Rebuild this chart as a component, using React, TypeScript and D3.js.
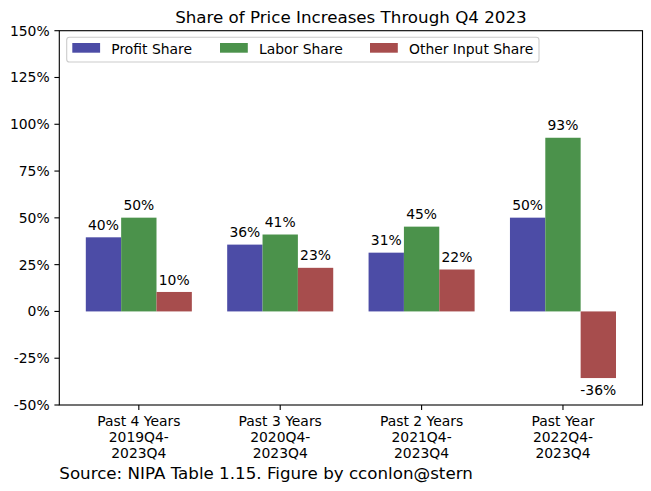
import React, {useEffect, useRef} from "react";
import * as d3 from "d3";

const categories = [
    ["Past 4 Years", "2019Q4-", "2023Q4"],
    ["Past 3 Years", "2020Q4-", "2023Q4"],
    ["Past 2 Years", "2021Q4-", "2023Q4"],
    ["Past Year", "2022Q4-", "2023Q4"],
];
const profitShare = [39.6, 35.7, 31.4, 50.1];
const laborShare = [50.1, 41.1, 45.3, 92.8];
const otherShare = [10.4, 23.3, 22.4, -35.6];
const seriesNames = ["Profit Share", "Labor Share", "Other Input Share"];
const yTicks = [-50, -25, 0, 25, 50, 75, 100, 125, 150];

const colors = ["#4c4ca6", "#4b924b", "#a74d4d"];

export default function App() {
    const ref = useRef<SVGSVGElement>(null);

    useEffect(() => {
        const width = 651;
        const height = 491;
        const left = 59.3, right = 642.5, top = 30.7, bottom = 405;
        const font = "DejaVu Sans, sans-serif";
        const fs = 13.9;

        const svg = d3.select(ref.current);
        svg.selectAll("*").remove();
        svg.attr("width", width).attr("height", height);

        const barWidth = 0.25;
        const x = d3.scaleLinear().domain([-0.5625, 3.5625]).range([left, right]);
        const y = d3.scaleLinear().domain([-50, 150]).range([bottom, top]);

        const series = [profitShare, laborShare, otherShare];
        // plain hyphen for negatives, like the original labels
        const fmt = (d: number) => `${Math.round(d)}%`;

        // bars
        series.forEach((vals, s) => {
            const offset = (s - 1) * barWidth;
            const g = svg.append("g");
            g.selectAll("rect")
                .data(vals)
                .join("rect")
                .attr("x", (_, i) => x(i + offset - barWidth / 2))
                .attr("width", x(barWidth) - x(0))
                .attr("y", d => y(Math.max(0, d)))
                .attr("height", d => Math.abs(y(d) - y(0)))
                .attr("fill", colors[s]);

            g.selectAll("text")
                .data(vals)
                .join("text")
                .attr("x", (_, i) => x(i + offset))
                .attr("y", d => d >= 0 ? y(d) - 7.4 : y(d) + 17)
                .attr("text-anchor", "middle")
                .attr("font-family", font)
                .attr("font-size", fs)
                .attr("fill", "black")
                .text(d => fmt(d));
        });

        // frame
        svg.append("rect")
            .attr("x", left).attr("y", top)
            .attr("width", right - left).attr("height", bottom - top)
            .attr("fill", "none").attr("stroke", "black").attr("stroke-width", 1.1);

        // y axis
        const yg = svg.append("g").attr("font-family", font).attr("font-size", fs);
        yTicks.forEach(t => {
            yg.append("line")
                .attr("x1", left - 4.9).attr("x2", left)
                .attr("y1", y(t)).attr("y2", y(t))
                .attr("stroke", "black").attr("stroke-width", 1.1);
            yg.append("text")
                .attr("x", left - 9.7).attr("y", y(t))
                .attr("dy", "0.36em")
                .attr("text-anchor", "end")
                .text(t + "%");
        });

        // x axis
        const xg = svg.append("g").attr("font-family", font).attr("font-size", fs);
        categories.forEach((lines, i) => {
            xg.append("line")
                .attr("x1", x(i)).attr("x2", x(i))
                .attr("y1", bottom).attr("y2", bottom + 4.9)
                .attr("stroke", "black").attr("stroke-width", 1.1);
            const t = xg.append("text").attr("text-anchor", "middle");
            lines.forEach((ln, k) => {
                t.append("tspan")
                    .attr("x", x(i))
                    .attr("y", 426 + k * 16.1)
                    .text(ln);
            });
        });

        // title
        svg.append("text")
            .attr("x", (left + right) / 2).attr("y", 22.5)
            .attr("text-anchor", "middle")
            .attr("font-family", font).attr("font-size", 16.7)
            .text("Share of Price Increases Through Q4 2023");

        // legend
        const lg = svg.append("g").attr("font-family", font).attr("font-size", fs);
        lg.append("rect")
            .attr("x", 66.7).attr("y", 37.3)
            .attr("width", 539 - 66.7).attr("height", 62 - 37.3)
            .attr("rx", 2.8)
            .attr("fill", "white").attr("fill-opacity", 0.8)
            .attr("stroke", "#cccccc").attr("stroke-width", 1.1);
        const patchX = [72.3, 220, 370];
        seriesNames.forEach((name, s) => {
            lg.append("rect")
                .attr("x", patchX[s]).attr("y", 43)
                .attr("width", 27.8).attr("height", 9.7)
                .attr("fill", colors[s]);
            lg.append("text")
                .attr("x", patchX[s] + 39)
                .attr("y", 54)
                .text(name);
        });

        // source note
        svg.append("text")
            .attr("x", 59.3).attr("y", 479)
            .attr("font-family", font).attr("font-size", 16.7)
            .text("Source: NIPA Table 1.15. Figure by cconlon@stern");
    }, []);

    return <svg ref={ref} style={{position: "absolute", left: 0, top: 0, background: "white"}}/>;
}
